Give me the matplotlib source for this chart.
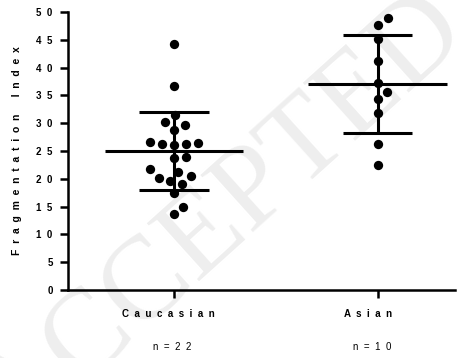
import numpy as np
import matplotlib.pyplot as plt
from matplotlib.transforms import ScaledTranslation

groups = ['Caucasian', 'Asian']
counts = [22, 10]
caucasian = [44.2, 36.7, 31.5, 29.7, 30.2, 28.7, 26.6, 26.3, 26.1, 26.2, 26.5,
             24.0, 23.7, 21.3, 21.7, 20.2, 20.5, 19.0, 19.6, 17.4, 15.0, 13.7]
asian = [48.9, 47.7, 45.1, 41.2, 37.2, 35.7, 34.3, 31.8, 26.3, 22.4]
yticks = list(range(0, 55, 5))


def spaced(s, gap='  '):
    return gap.join(s)


def swarm(vals, center, gap=12.0):
    # simple beeswarm, done in pixel space
    pix = ax.transData.transform(np.column_stack([np.full(len(vals), center), vals]))
    cx = pix[0, 0]
    order = np.argsort(vals)
    placed = []
    xs = np.zeros(len(vals))
    for i in order:
        y = pix[i, 1]
        cands = [0.0]
        for (px, py) in placed:
            dy = abs(py - y)
            if dy < gap:
                dx = np.sqrt(gap**2 - dy**2)
                cands += [px + dx, px - dx]
        cands.sort(key=lambda c: (abs(c), -c))
        for c in cands:
            if all((c - px)**2 + (y - py)**2 >= gap**2 - 1e-6 for (px, py) in placed):
                break
        placed.append((c, y))
        xs[i] = c
    back = ax.transData.inverted().transform(np.column_stack([cx + xs, pix[:, 1]]))
    return back[:, 0]


plt.rcParams['font.family'] = 'Liberation Sans'

fig = plt.figure(figsize=(4.58, 3.58), dpi=100)
ax = fig.add_axes([68/458, 1-290/358, 387/458, 278/358])
ax.set_xlim(-0.52, 1.38)
ax.set_ylim(0, 50)

# watermark
ax.text(0.49, 0.39, 'ACCEPTED', transform=fig.transFigure, rotation=42,
        fontsize=85, family='Liberation Serif', color='#eeeeee',
        ha='center', va='center', zorder=0)

for i, vals in enumerate([caucasian, asian]):
    vals = np.array(vals)
    m = vals.mean()
    sd = vals.std(ddof=1)
    xs = swarm(vals, i)
    ax.scatter(xs, vals, s=45, color='black', zorder=3, clip_on=False, linewidths=0)
    ax.hlines(m, i - 0.34, i + 0.34, color='black', lw=2.2, zorder=4)
    ax.vlines(i, m - sd, m + sd, color='black', lw=2.2, zorder=4)
    ax.hlines([m - sd, m + sd], i - 0.17, i + 0.17, color='black', lw=2.2, zorder=4)

for s in ['top', 'right']:
    ax.spines[s].set_visible(False)
for s in ['left', 'bottom']:
    ax.spines[s].set_linewidth(1.8)

ax.set_yticks(yticks)
ax.set_yticklabels([spaced(str(t)) for t in yticks], fontweight='bold')
ax.set_xticks(range(len(groups)))
ax.set_xticklabels([spaced(g) for g in groups], fontweight='bold')
ax.tick_params(axis='both', direction='out', length=6, width=1.8, labelsize=7)
ax.tick_params(axis='x', pad=8)
ax.tick_params(axis='y', pad=5)

# GraphPad puts the group names a little left of the ticks
shifts = [-6, -10]
for lab, dx in zip(ax.get_xticklabels(), shifts):
    lab.set_transform(lab.get_transform() + ScaledTranslation(dx / 100, 0, fig.dpi_scale_trans))

n_shifts = [-2, -5]
for i, n in enumerate(counts):
    ax.text(i, -0.205, 'n  =  ' + spaced(str(n)), ha='center', va='center', fontsize=7,
            transform=ax.get_xaxis_transform() + ScaledTranslation(n_shifts[i] / 100, 0, fig.dpi_scale_trans))

ax.set_ylabel(spaced('Fragmentation') + '      ' + spaced('Index'), fontweight='bold',
              fontsize=7.5, labelpad=10)

fig.savefig('out.png', dpi=100)
